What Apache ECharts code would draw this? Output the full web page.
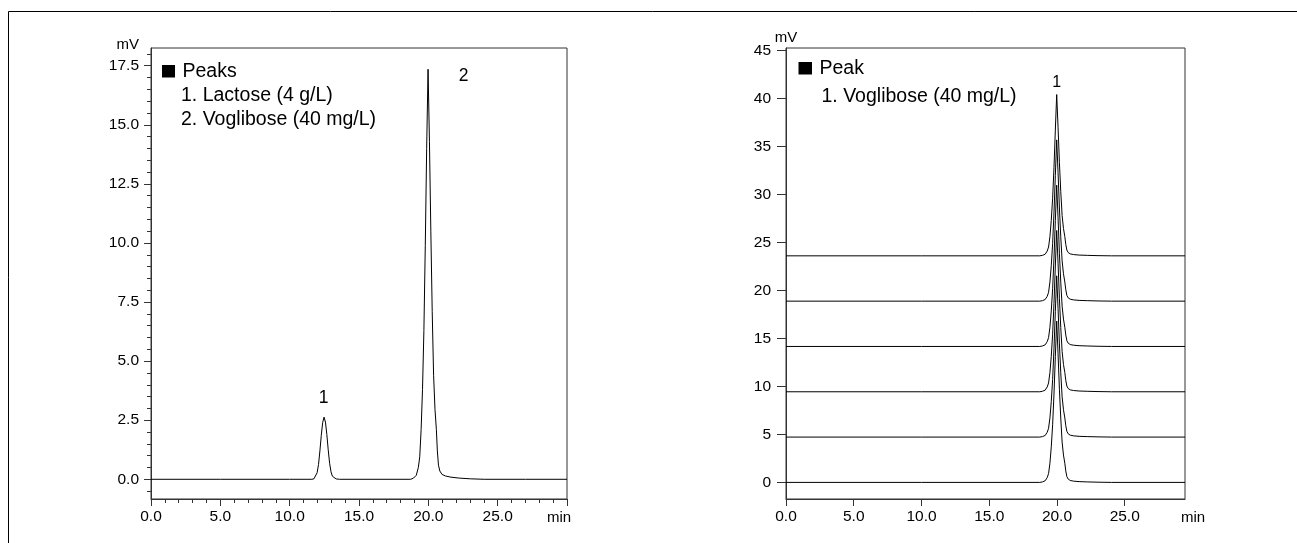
<!DOCTYPE html>
<html>
<head>
<meta charset="utf-8">
<script src="https://cdn.jsdelivr.net/npm/echarts@6/dist/echarts.min.js"></script>
<style>
html,body{margin:0;padding:0;background:#fff;}
#chart{width:1297px;height:543px;}
</style>
</head>
<body>
<div id="chart"></div>
<script>
// ---------- Data ----------
// Left chromatogram: Lactose (4 g/L) + Voglibose (40 mg/L)
const leftTime = [0, 5, 10, 11.6, 11.75, 11.88, 11.98, 12.08, 12.18, 12.28, 12.38, 12.48, 12.58, 12.68, 12.78, 12.88, 12.98, 13.08, 13.2, 13.35, 13.6, 15, 18.73, 18.93, 19.13, 19.28, 19.38, 19.48, 19.58, 19.68, 19.78, 19.88, 19.98, 20.08, 20.18, 20.28, 20.38, 20.48, 20.58, 20.65, 20.73, 20.83, 20.98, 21.23, 21.63, 22.23, 23.03, 24.03, 27, 30];
const leftSignal = [0, 0, 0, 0, 0.02, 0.08, 0.28, 0.62, 1.2, 1.86, 2.4, 2.63, 2.42, 1.9, 1.25, 0.68, 0.32, 0.13, 0.05, 0.015, 0, 0, 0, 0.05, 0.17, 0.5, 0.95, 2.1, 3.8, 6.3, 9.9, 14.0, 17.35, 14.3, 10.5, 7.1, 4.4, 2.95, 2.1, 1.2, 0.6, 0.35, 0.21, 0.14, 0.09, 0.05, 0.02, 0, 0, 0];
const leftPeakLabels = [[12.45, 3.45, '1'], [22.55, 17.04, '2']];
const leftLegendLines = ['Peaks', '1. Lactose (4 g/L)', '2. Voglibose (40 mg/L)'];
const leftXTicks = [0, 5, 10, 15, 20, 25];
const leftYTicks = [0, 2.5, 5, 7.5, 10, 12.5, 15, 17.5];
const leftYMinorTicks = [-0.5, 0.5, 1, 1.5, 2, 3, 3.5, 4, 4.5, 5.5, 6, 6.5, 7, 8, 8.5, 9, 9.5, 10.5, 11, 11.5, 12, 13, 13.5, 14, 14.5, 15.5, 16, 16.5, 17, 18];

// Right chromatogram: six stacked injections of Voglibose (40 mg/L)
const rightTime = [0, 10, 18.73, 18.93, 19.13, 19.28, 19.38, 19.48, 19.58, 19.68, 19.78, 19.88, 19.98, 20.08, 20.18, 20.28, 20.38, 20.48, 20.58, 20.65, 20.73, 20.83, 20.98, 21.23, 21.63, 22.23, 23.03, 24.03, 29.45];
const run1 = [0, 0, 0, 0.05, 0.17, 0.5, 0.92, 2.0, 3.7, 6.0, 9.2, 13.1, 16.8, 13.4, 9.7, 6.7, 4.2, 2.85, 2.0, 1.2, 0.6, 0.34, 0.2, 0.13, 0.08, 0.05, 0.02, 0, 0];
const run2 = [4.72, 4.72, 4.72, 4.77, 4.89, 5.22, 5.64, 6.72, 8.42, 10.72, 13.92, 17.82, 21.52, 18.12, 14.42, 11.42, 8.92, 7.57, 6.72, 5.92, 5.32, 5.06, 4.92, 4.85, 4.80, 4.77, 4.74, 4.72, 4.72];
const run3 = [9.44, 9.44, 9.44, 9.49, 9.61, 9.94, 10.36, 11.44, 13.14, 15.44, 18.64, 22.54, 26.24, 22.84, 19.14, 16.14, 13.64, 12.29, 11.44, 10.64, 10.04, 9.78, 9.64, 9.57, 9.52, 9.49, 9.46, 9.44, 9.44];
const run4 = [14.16, 14.16, 14.16, 14.21, 14.33, 14.66, 15.08, 16.16, 17.86, 20.16, 23.36, 27.26, 30.96, 27.56, 23.86, 20.86, 18.36, 17.01, 16.16, 15.36, 14.76, 14.5, 14.36, 14.29, 14.24, 14.21, 14.18, 14.16, 14.16];
const run5 = [18.88, 18.88, 18.88, 18.93, 19.05, 19.38, 19.8, 20.88, 22.58, 24.88, 28.08, 31.98, 35.68, 32.28, 28.58, 25.58, 23.08, 21.73, 20.88, 20.08, 19.48, 19.22, 19.08, 19.01, 18.96, 18.93, 18.9, 18.88, 18.88];
const run6 = [23.6, 23.6, 23.6, 23.65, 23.77, 24.1, 24.52, 25.6, 27.3, 29.6, 32.8, 36.7, 40.4, 37.0, 33.3, 30.3, 27.8, 26.45, 25.6, 24.8, 24.2, 23.94, 23.8, 23.73, 23.68, 23.65, 23.62, 23.6, 23.6];
const rightRuns = [run1, run2, run3, run4, run5, run6];
const rightPeakLabels = [[19.98, 41.6, '1']];
const rightLegendLines = ['Peak', '1. Voglibose (40 mg/L)'];
const rightXTicks = [0, 5, 10, 15, 20, 25];
const rightYTicks = [0, 5, 10, 15, 20, 25, 30, 35, 40, 45];

// ---------- Chart ----------
const FONT = '"Liberation Sans", Arial, Helvetica, sans-serif';
const AX = '#333';
const LINE = '#000';
const TXT = '#000';
const zip = (xs, ys) => xs.map((x, i) => [x, ys[i]]);

const grids = [
  {left: 151, top: 48, width: 416, height: 451, show: true, borderColor: AX, borderWidth: 1, backgroundColor: 'transparent'},
  {left: 786, top: 48, width: 399, height: 451, show: true, borderColor: AX, borderWidth: 1, backgroundColor: 'transparent'}
];

function xAxis(gridIndex, max, ticks, nameGap) {
  return {
    type: 'value', gridIndex, min: 0, max,
    name: 'min', nameLocation: 'end', nameGap, nameMoveOverlap: false,
    nameTextStyle: {fontFamily: FONT, fontSize: 15, color: TXT, align: 'center', verticalAlign: 'top', padding: [11, 0, 0, 0]},
    axisLine: {show: true, onZero: false, lineStyle: {color: AX, width: 1}},
    axisTick: {show: true, inside: false, length: 7, customValues: ticks, lineStyle: {color: AX}},
    minorTick: {show: false},
    axisLabel: {show: true, customValues: ticks, margin: 10, fontFamily: FONT, fontSize: 15.5, color: TXT, formatter: v => v.toFixed(1)},
    splitLine: {show: false}
  };
}

const leftX = xAxis(0, 30, leftXTicks, -8);
leftX.interval = 5;
leftX.axisTick = {show: true, length: 7, lineStyle: {color: AX}};
leftX.minorTick = {show: true, splitNumber: 5, length: 4, lineStyle: {color: AX}};

function labelSeries(xi, yi, data, size) {
  return {
    type: 'scatter', xAxisIndex: xi, yAxisIndex: yi, data, symbolSize: 0,
    itemStyle: {opacity: 1},
    label: {show: true, position: 'inside', formatter: p => p.value[2], fontFamily: FONT, fontSize: size, color: TXT, opacity: 1},
    silent: true
  };
}

const option = {
  animation: false,
  backgroundColor: '#fff',
  grid: grids,
  xAxis: [leftX, xAxis(1, 29.45, rightXTicks, 8)],
  yAxis: [
    {
      type: 'value', gridIndex: 0, min: -0.834, max: 18.25,
      name: 'mV', nameLocation: 'end', nameGap: 3, nameMoveOverlap: false,
      nameTextStyle: {fontFamily: FONT, fontSize: 15, color: TXT, align: 'right', verticalAlign: 'middle', padding: [0, 12, 0, 0]},
      axisLine: {show: true, onZero: false, lineStyle: {color: AX, width: 1}},
      axisTick: {show: true, length: 7, customValues: leftYTicks, lineStyle: {color: AX}},
      axisLabel: {show: true, customValues: leftYTicks, margin: 12, fontFamily: FONT, fontSize: 15.5, color: TXT, formatter: v => v.toFixed(1)},
      splitLine: {show: false}
    },
    {
      type: 'value', gridIndex: 0, min: -0.834, max: 18.25, position: 'left',
      axisLine: {show: false, onZero: false},
      axisTick: {show: true, length: 4, customValues: leftYMinorTicks, lineStyle: {color: AX}},
      axisLabel: {show: false},
      splitLine: {show: false}
    },
    {
      type: 'value', gridIndex: 1, min: -1.73, max: 45.25,
      name: 'mV', nameLocation: 'end', nameGap: 10, nameMoveOverlap: false,
      nameTextStyle: {fontFamily: FONT, fontSize: 15, color: TXT, align: 'center', verticalAlign: 'middle'},
      axisLine: {show: true, onZero: false, lineStyle: {color: AX, width: 1}},
      axisTick: {show: true, length: 9, customValues: rightYTicks, lineStyle: {color: AX}},
      axisLabel: {show: true, customValues: rightYTicks, margin: 15, fontFamily: FONT, fontSize: 15.5, color: TXT, formatter: v => String(v)},
      splitLine: {show: false}
    }
  ],
  series: [
    {
      type: 'line', xAxisIndex: 0, yAxisIndex: 0, data: zip(leftTime, leftSignal),
      showSymbol: false, symbol: 'none', lineStyle: {color: LINE, width: 1}, silent: true
    },
    labelSeries(0, 0, leftPeakLabels, 17.5)
  ].concat(rightRuns.map(r => ({
      type: 'line', xAxisIndex: 1, yAxisIndex: 2, data: zip(rightTime, r),
      showSymbol: false, symbol: 'none', lineStyle: {color: LINE, width: 1}, silent: true
  }))).concat([labelSeries(1, 2, rightPeakLabels, 16)]),
  graphic: [
    {type: 'polyline', silent: true, shape: {points: [[8.5, 543], [8.5, 11.5], [1297, 11.5]]}, style: {stroke: '#000', lineWidth: 1, fill: null}},
    {type: 'rect', silent: true, shape: {x: 162, y: 65, width: 13, height: 12.5}, style: {fill: '#000'}},
    {type: 'text', silent: true, x: 182.5, y: 71.5, style: {text: leftLegendLines[0], font: '19.5px ' + FONT, fill: TXT, verticalAlign: 'middle'}},
    {type: 'text', silent: true, x: 181, y: 95.5, style: {text: leftLegendLines[1], font: '19.5px ' + FONT, fill: TXT, verticalAlign: 'middle'}},
    {type: 'text', silent: true, x: 181, y: 119.5, style: {text: leftLegendLines[2], font: '19.5px ' + FONT, fill: TXT, verticalAlign: 'middle'}},
    {type: 'rect', silent: true, shape: {x: 798.5, y: 62, width: 13.5, height: 12.5}, style: {fill: '#000'}},
    {type: 'text', silent: true, x: 819.5, y: 68.5, style: {text: rightLegendLines[0], font: '19.5px ' + FONT, fill: TXT, verticalAlign: 'middle'}},
    {type: 'text', silent: true, x: 821.5, y: 96.5, style: {text: rightLegendLines[1], font: '19.5px ' + FONT, fill: TXT, verticalAlign: 'middle'}}
  ]
};

const chart = echarts.init(document.getElementById('chart'), null, {renderer: 'canvas'});
chart.setOption(option);
</script>
</body>
</html>
